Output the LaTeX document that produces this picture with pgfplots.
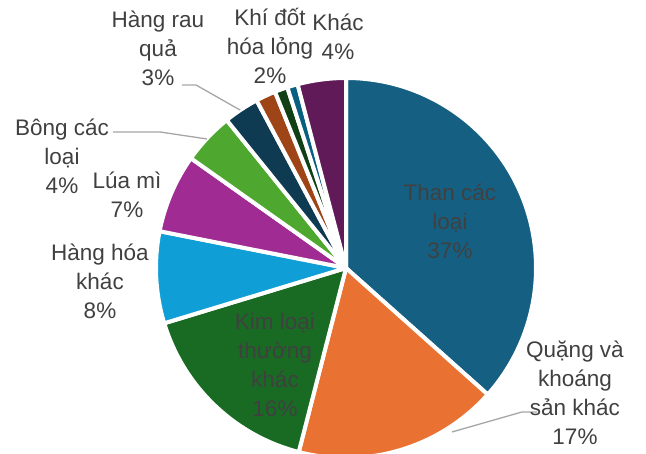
\documentclass[border=0pt]{standalone}
\usepackage{pgfplots}
\pgfplotsset{compat=1.18}
\usepackage{pgfplotstable}
\usepackage{fontspec}
\setmainfont{Liberation Sans}

\definecolor{c1}{HTML}{156082}
\definecolor{c2}{HTML}{E97132}
\definecolor{c3}{HTML}{196B24}
\definecolor{c4}{HTML}{0F9ED5}
\definecolor{c5}{HTML}{A02B93}
\definecolor{c6}{HTML}{4EA72E}
\definecolor{c7}{HTML}{0E3A52}
\definecolor{c8}{HTML}{9E4417}
\definecolor{c9}{HTML}{124016}
\definecolor{c10}{HTML}{095F80}
\definecolor{c11}{HTML}{601A58}
\definecolor{lbl}{HTML}{404040}
\definecolor{lead}{HTML}{A6A6A6}

% share of each category, clockwise from 12 o'clock
\pgfplotstableread{
pct  col
36.6 c1
17.4 c2
16.3 c3
7.8  c4
6.7  c5
4.4  c6
3.0  c7
1.7  c8
1.1  c9
0.9  c10
4.1  c11
}\piedata

\begin{document}
\begin{tikzpicture}
\begin{axis}[
    width=646pt, height=454pt, scale only axis,
    xmin=0, xmax=646, ymin=0, ymax=454,
    hide axis, clip=true,
]
\path (axis cs:0,0) rectangle (axis cs:646,454);
\pgfplotstablegetrowsof{\piedata}
\pgfmathtruncatemacro\nrows{\pgfplotsretval-1}
\def\cum{0}
\pgfplotsforeachungrouped \i in {0,...,\nrows}{%
  \pgfplotstablegetelem{\i}{pct}\of\piedata \let\v\pgfplotsretval
  \pgfplotstablegetelem{\i}{col}\of\piedata \let\c\pgfplotsretval
  \pgfmathsetmacro\aa{90-3.6*\cum}
  \pgfmathsetmacro\bb{90-3.6*(\cum+\v)}
  \edef\temp{\noexpand\fill[\c, draw=white, line width=4pt, line join=round]
    (axis cs:346,186) -- ++(\aa:190pt)
    arc[start angle=\aa, end angle=\bb, radius=190pt] -- cycle;}
  \temp
  \pgfmathsetmacro\cum{\cum+\v}
}

% leader lines
\draw[lead, line width=1.3pt] (axis cs:182,369) -- (axis cs:196,369) -- (axis cs:240,344);
\draw[lead, line width=1.3pt] (axis cs:113,322) -- (axis cs:160,322) -- (axis cs:207,315);
\draw[lead, line width=1.3pt] (axis cs:452,22) -- (axis cs:522,42) -- (axis cs:537,42);

\tikzset{lab/.style={text=lbl, align=center, inner sep=0pt,
    font=\fontsize{22.5}{29}\selectfont}}
\node[lab] at (axis cs:450,233) {Than các\\loại\\37\%};
\node[lab] at (axis cs:575,61) {Quặng và\\khoáng\\sản khác\\17\%};
\node[lab] at (axis cs:275,89) {Kim loại\\thường\\khác\\16\%};
\node[lab] at (axis cs:100,173) {Hàng hóa\\khác\\8\%};
\node[lab] at (axis cs:127,259) {Lúa mì\\7\%};
\node[lab] at (axis cs:62,298) {Bông các\\loại\\4\%};
\node[lab] at (axis cs:158,406) {Hàng rau\\quả\\3\%};
\node[lab] at (axis cs:270,408) {Khí đốt\\hóa lỏng\\2\%};
\node[lab] at (axis cs:338,417) {Khác\\4\%};
\end{axis}
\end{tikzpicture}
\end{document}
